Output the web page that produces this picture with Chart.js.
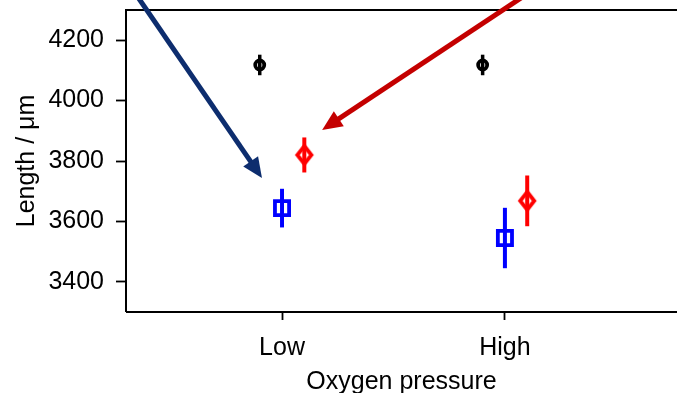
<!DOCTYPE html>
<html>
<head>
<meta charset="utf-8">
<script src="https://cdn.jsdelivr.net/npm/chart.js@4.4.0/dist/chart.umd.min.js"></script>
<style>
  html, body { margin: 0; padding: 0; background: #fff; overflow: hidden; }
  #wrap { width: 677px; height: 393px; }
</style>
</head>
<body>
<div id="wrap"><canvas id="chart" width="677" height="393"></canvas></div>
<script>
// Data
const categories = ['Low', 'High'];
const yTicks = [3400, 3600, 3800, 4000, 4200];

const blackValues = [4118, 4118];
const blackErrors = [34, 34];
const blueValues = [3644, 3545];
const blueErrors = [64, 100];
const redValues = [3820, 3668];
const redErrors = [58, 84];

// arrows in data units: [x, y] start and tip
const blueArrowFrom = [-0.70, 4400];
const blueArrowTo = [-0.09, 3744];
const redArrowFrom = [1.195, 4400];
const redArrowTo = [0.18, 3903];

const OFFSET = 0.1;
const FONT = 'Liberation Sans, Arial, sans-serif';

function pts(values, shift) {
  return values.map((v, i) => ({ x: i + shift, y: v }));
}

// thin diamond marker as an image
function diamondMarker(color) {
  const c = document.createElement('canvas');
  c.width = 24; c.height = 26;
  const g = c.getContext('2d');
  g.strokeStyle = color;
  g.lineWidth = 3.8;
  g.beginPath();
  g.moveTo(12, 4); g.lineTo(19, 13); g.lineTo(12, 22); g.lineTo(5, 13);
  g.closePath();
  g.stroke();
  return c;
}

const errorBars = {
  id: 'errorBars',
  beforeDatasetsDraw(chart) {
    const ctx = chart.ctx;
    const xs = chart.scales.x, ys = chart.scales.y;
    chart.data.datasets.forEach(ds => {
      if (!ds.errors) return;
      ctx.save();
      ctx.strokeStyle = ds.borderColor;
      ctx.lineWidth = ds.errWidth || 4;
      ds.data.forEach((p, i) => {
        const px = xs.getPixelForValue(p.x);
        ctx.beginPath();
        ctx.moveTo(px, ys.getPixelForValue(p.y - ds.errors[i]));
        ctx.lineTo(px, ys.getPixelForValue(p.y + ds.errors[i]));
        ctx.stroke();
      });
      ctx.restore();
    });
  }
};

function drawArrow(chart, from, to, color) {
  const ctx = chart.ctx;
  const xs = chart.scales.x, ys = chart.scales.y;
  const x0 = xs.getPixelForValue(from[0]), y0 = ys.getPixelForValue(from[1]);
  const x1 = xs.getPixelForValue(to[0]), y1 = ys.getPixelForValue(to[1]);
  const ang = Math.atan2(y1 - y0, x1 - x0);
  const headLen = 20, headW = 9;
  const bx = x1 - headLen * Math.cos(ang), by = y1 - headLen * Math.sin(ang);
  ctx.save();
  ctx.strokeStyle = color;
  ctx.fillStyle = color;
  ctx.lineWidth = 5;
  ctx.beginPath();
  ctx.moveTo(x0, y0);
  ctx.lineTo(bx + 2 * Math.cos(ang), by + 2 * Math.sin(ang));
  ctx.stroke();
  ctx.beginPath();
  ctx.moveTo(x1, y1);
  ctx.lineTo(bx + headW * Math.sin(ang), by - headW * Math.cos(ang));
  ctx.lineTo(bx - headW * Math.sin(ang), by + headW * Math.cos(ang));
  ctx.closePath();
  ctx.fill();
  ctx.restore();
}

const frameAndArrows = {
  id: 'frameAndArrows',
  afterDraw(chart) {
    const { ctx, chartArea: a } = chart;
    ctx.save();
    ctx.strokeStyle = '#000';
    ctx.lineWidth = 2;
    ctx.beginPath();
    ctx.moveTo(a.left, a.bottom);
    ctx.lineTo(a.left, a.top);
    ctx.lineTo(a.right + 2, a.top);
    ctx.moveTo(a.left, a.bottom);
    ctx.lineTo(a.right + 2, a.bottom);
    ctx.stroke();
    ctx.restore();
    drawArrow(chart, blueArrowFrom, blueArrowTo, '#0d2d6e');
    drawArrow(chart, redArrowFrom, redArrowTo, '#c40000');
  }
};

const ctx = document.getElementById('chart').getContext('2d');
new Chart(ctx, {
  type: 'scatter',
  data: {
    datasets: [
      {
        data: pts(blackValues, -OFFSET), errors: blackErrors, errWidth: 3.5,
        borderColor: '#000', backgroundColor: 'rgba(0,0,0,0)',
        pointStyle: 'circle', pointRadius: 4.5, borderWidth: 3.8
      },
      {
        data: pts(blueValues, 0), errors: blueErrors, errWidth: 4,
        borderColor: '#0000ff', backgroundColor: 'rgba(0,0,0,0)',
        pointStyle: 'rect', pointRadius: 10, borderWidth: 3.8
      },
      {
        data: pts(redValues, OFFSET), errors: redErrors, errWidth: 4,
        borderColor: '#ff0000', backgroundColor: 'rgba(0,0,0,0)',
        pointStyle: diamondMarker('#ff0000'), pointRadius: 10
      }
    ]
  },
  options: {
    responsive: false,
    animation: false,
    events: [],
    layout: { autoPadding: false, padding: { left: 0, top: 10, right: 0, bottom: 0 } },
    plugins: { legend: { display: false }, tooltip: { enabled: false } },
    scales: {
      x: {
        type: 'linear', min: -0.7, max: 1.772,
        afterFit: s => {
          s.height = 81;
          s.paddingLeft = 0; s.paddingRight = 0;
        },
        afterBuildTicks: s => { s.ticks = categories.map((c, i) => ({ value: i })); },
        ticks: {
          color: '#000', padding: 13, maxRotation: 0,
          font: { family: FONT, size: 25 },
          callback: v => categories[v]
        },
        grid: { drawOnChartArea: false, tickLength: 8, tickWidth: 1.8, tickColor: '#000' },
        border: { display: false },
        title: {
          display: true, text: 'Oxygen pressure', color: '#000',
          font: { family: FONT, size: 25, lineHeight: 1 }, padding: { top: 0, bottom: -2 }
        }
      },
      y: {
        min: 3300, max: 4300,
        afterFit: s => {
          s.width = 126;
          s.paddingTop = 0; s.paddingBottom = 0;
        },
        afterBuildTicks: s => { s.ticks = yTicks.map(v => ({ value: v })); },
        ticks: {
          color: '#000', padding: 12, font: { family: FONT, size: 25 },
          callback: v => String(v)
        },
        grid: { drawOnChartArea: false, tickLength: 10, tickWidth: 1.8, tickColor: '#000' },
        border: { display: false },
        title: {
          display: true, text: 'Length / μm', color: '#000',
          font: { family: FONT, size: 25, lineHeight: 1 }, padding: { top: 15, bottom: 0 }
        }
      }
    }
  },
  plugins: [errorBars, frameAndArrows]
});
</script>
</body>
</html>
